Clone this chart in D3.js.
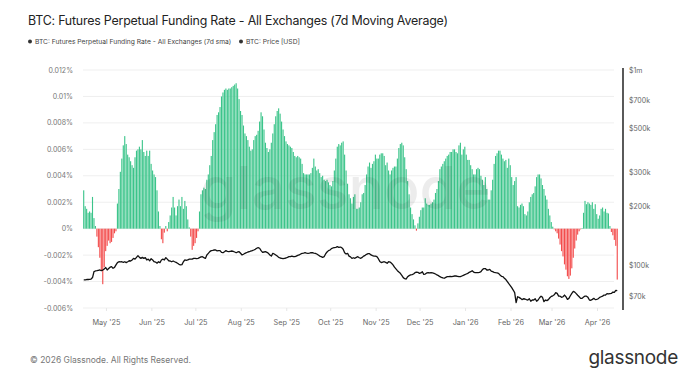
<!DOCTYPE html>
<html>
<head>
<meta charset="utf-8">
<script src="https://cdn.jsdelivr.net/npm/d3@7"></script>
<style>
  body { margin: 0; background: #fff; }
  svg { font-family: Inter, "Noto Sans", sans-serif; display: block; }
</style>
</head>
<body>
<div id="chart"></div>
<script>
// daily values from 15 Apr 2025, funding rate in units of 0.001 %
var startDay = new Date(2025, 3, 15);
var fundingRate = [
  2.9, 1.7, 1.5, 1.2, 1.3, 1.2, 2.4, 0.8, 0.2, -0.6, -1.4, -2.2, -3.2, -4.2, -2.9, -1.7, -1.3, -0.9, -1.1, -1.0, -0.7, -0.35, -0.2,
  1.9, 3.0, 4.3, 5.3, 6.3, 7.0, 6.4, 5.6, 5.4, 5.1, 4.8, 4.6, 5.4, 5.9, 6.0, 6.2, 6.0, 6.7, 5.8, 5.5,
  5.9, 5.5, 5.9, 4.9, 4.4, 4.1, 3.9, 2.9, 1.3, 0.2, -0.8, -1.1, -0.3, 0.2, -0.2, 0.5, 1.0, 1.6, 2.4, 1.6,
  1.0, 1.7, 2.2, 1.7, 2.4, 1.5, 2.1, 1.7, 0.7, 0.1, -0.6, -1.6, -1.3, -1.1, -0.7, -0.2, 1.3, 2.6, 2.9, 3.1,
  3.0, 3.7, 4.1, 4.8, 5.5, 6.7, 7.3, 7.9, 8.6, 8.8, 9.2,
  10.0, 10.3, 10.5, 10.6, 10.5, 10.6, 10.6, 10.7, 10.8, 10.9, 11.0, 10.6, 9.8, 8.9, 8.6, 7.8, 7.2, 7.0, 6.7, 6.2,
  5.9, 6.0, 6.7, 7.0, 7.1, 7.4, 8.1, 8.8, 8.5, 7.5, 6.5, 6.1, 5.8, 6.0, 6.5, 7.2, 7.9, 8.5, 8.9, 9.1,
  8.7, 8.1, 7.5, 7.0, 6.6, 6.4, 6.3, 6.2, 6.1, 5.8, 5.5, 5.4, 5.5, 5.4, 5.3, 4.9, 4.2, 4.1, 4.1, 4.1,
  4.1, 4.2, 4.6, 5.3, 4.7, 4.4, 4.5, 4.2, 3.9, 4.0, 3.7, 3.6, 3.7, 3.5, 3.3, 3.2, 3.6, 4.4, 5.3, 6.2,
  6.4, 6.3, 6.5, 6.6, 5.6, 4.4, 3.4, 2.6, 2.3, 1.9, 2.4, 2.6,
  1.5, 1.5, 1.6, 2.0, 2.6, 2.7, 3.3, 4.1, 4.7, 5.0, 4.6, 4.9, 5.1, 5.6, 5.3, 5.3, 5.6, 5.7, 5.7, 5.5,
  4.8, 5.0, 4.4, 4.1, 4.4, 4.6, 4.7, 4.7, 5.3, 6.1, 6.4, 6.5, 6.3, 5.4, 4.5, 3.6, 2.6, 1.6, 1.1, 0.7,
  0.25, -0.15, 0.4, 0.9, 1.4, 1.6, 1.6, 2.3, 1.9, 1.8, 1.8, 1.9, 2.0, 2.2, 2.7, 3.0, 3.6, 4.5, 4.7, 4.9,
  5.1, 5.3, 5.5, 5.6, 5.8, 5.8, 6.0, 6.0, 5.8, 5.7, 6.3, 6.5, 5.6, 6.0, 6.2, 5.6, 5.2, 5.2, 4.8, 4.5,
  4.1, 4.1, 4.5, 4.6, 4.5, 4.0, 3.7, 3.3, 3.9,
  3.0, 2.2, 2.2, 2.9, 3.7, 4.9, 5.5, 5.7, 5.9, 5.9, 5.6, 5.3, 5.1, 5.2, 4.6, 5.3, 4.8, 3.9, 3.3, 3.6,
  3.9, 1.7, 1.6, 1.8, 1.9, 1.7, 1.1, 1.0, 1.3, 2.0, 2.4, 2.6, 2.7, 3.2, 3.9, 4.1, 4.1, 3.8, 3.3, 3.0,
  2.5, 2.2, 1.5, 1.0, 0.5, 0.15, -0.05, -0.2, -0.35, -0.75, -1.2, -1.7, -2.1, -2.7, -3.1, -3.6, -3.8, -3.55, -3.0, -2.2,
  -1.5, -0.9, -0.45, -0.2, -0.05, 0.05, 1.2, 2.1, 1.85, 2.0, 1.9, 1.8, 2.0, 1.5, 1.85, 1.1, 0.75, 1.0, 1.5, 1.6,
  1.3, 1.5, 1.2, 1.15, 0.2, -0.25, -0.5, -0.85, -1.3, -3.85
];
// BTC price, thousands of USD
var btcPrice = [
  84.6, 84.6, 85.0, 85.0, 85.1, 85.5, 87.0, 93.2, 94.0, 94.3, 94.7, 95.1, 94.3, 95.0, 96.3, 97.9, 95.1, 96.7, 98.3, 99.0, 97.0, 98.0, 101.0,
  103.7, 104.8, 104.5, 104.8, 104.0, 104.8, 103.7, 104.8, 106.0, 105.7, 107.0, 109.0, 108.0, 110.3, 112.5, 110.3, 109.0, 110.3, 109.0, 110.0,
  107.0, 108.0, 106.0, 108.6, 107.0, 104.8, 104.4, 103.0, 104.8, 103.7, 106.9, 108.0, 107.0, 110.0, 108.0, 106.0, 105.7, 104.8, 105.7, 104.8,
  104.0, 103.0, 101.7, 101.0, 101.3, 104.8, 107.0, 106.5, 107.0, 108.0, 108.0, 108.0, 109.0, 109.0, 108.6, 109.0, 110.0, 111.0, 111.2, 110.0,
  109.0, 113.5, 115.7, 118.0, 119.4, 119.8, 120.3, 120.3, 119.0, 119.4, 119.4,
  117.0, 116.5, 117.9, 119.4, 118.4, 117.9, 118.4, 118.9, 118.4, 117.5, 116.5, 117.5, 117.9, 115.7, 113.5, 114.4, 115.7, 116.5, 117.5, 117.9,
  118.9, 119.4, 120.3, 121.3, 122.8, 123.7, 122.8, 119.4, 117.0, 117.5, 117.9, 117.0, 115.7, 113.5, 112.0, 115.7, 114.8, 113.5, 112.0, 110.3,
  109.5, 109.1, 108.6, 109.1, 109.5, 110.3, 111.2, 111.2, 112.0, 111.2, 111.2, 112.0, 113.0, 113.5, 114.8, 115.7, 116.0, 116.5, 116.0, 115.7,
  116.0, 116.5, 116.5, 116.0, 115.7, 114.8, 113.5, 112.0, 111.2, 110.3, 111.2, 114.8, 117.5, 119.4, 120.3, 122.3, 123.2, 123.7, 124.2, 125.1,
  124.2, 124.6, 123.7, 121.3, 116.5, 114.8, 115.7, 112.0, 111.0, 109.0, 109.8, 109.1,
  110.3, 111.2, 109.8, 109.1, 110.3, 112.0, 113.0, 114.4, 115.2, 115.2, 113.5, 112.5, 112.0, 112.0, 111.2, 108.6, 105.2, 103.7, 104.4, 104.8,
  104.0, 102.9, 104.8, 104.4, 102.9, 101.0, 98.3, 96.3, 94.3, 92.8, 91.4, 89.3, 86.9, 85.8, 85.5, 87.9, 89.0, 89.7, 90.0, 90.7,
  92.1, 92.8, 92.5, 91.4, 91.8, 93.2, 90.3, 90.7, 91.8, 92.1, 91.8, 92.1, 91.8, 91.4, 90.7, 89.7, 89.0, 87.9, 87.2, 86.6,
  86.3, 87.2, 87.9, 87.9, 88.3, 87.9, 88.3, 88.6, 88.6, 88.3, 87.9, 87.9, 88.6, 89.3, 90.0, 90.7, 91.4, 92.5, 93.2, 94.3,
  92.8, 92.1, 92.1, 92.1, 92.5, 93.2, 95.5, 96.7, 96.7, 95.1, 95.1, 95.8,
  93.9, 93.2, 92.5, 92.1, 91.8, 91.4, 89.7, 88.3, 87.9, 86.3, 85.0, 82.9, 80.9, 79.1, 77.2, 75.1, 72.8, 64.8, 69.4, 68.9,
  68.1, 67.1, 67.8, 67.6, 67.1, 66.8, 67.8, 65.8, 66.8, 66.8, 67.8, 65.8, 66.8, 68.6, 69.9, 68.9, 65.5, 66.8, 66.3, 67.1,
  68.6, 69.7, 70.2, 71.0, 72.8, 72.2, 69.9, 69.9, 68.9, 69.4, 70.8, 69.4, 67.3, 68.1, 70.2, 72.2, 73.9, 73.3, 72.0, 70.6,
  69.4, 68.1, 68.1, 69.2, 69.9, 69.9, 68.9, 66.8, 66.6, 67.3, 68.1, 67.1, 67.3, 67.8, 68.9, 69.4, 69.9, 70.8, 70.8, 72.0,
  71.7, 72.0, 72.2, 73.3, 73.0, 74.8, 74.5
];
var rateTicks = [-6, -4, -2, 0, 2, 4, 6, 8, 10, 12];
var priceTicks = [70000, 100000, 200000, 300000, 500000, 700000, 1000000];
var priceLabels = ["$70k", "$100k", "$200k", "$300k", "$500k", "$700k", "$1m"];
var monthTicks = ["May '25", "Jun '25", "Jul '25", "Aug '25", "Sep '25", "Oct '25", "Nov '25", "Dec '25", "Jan '26", "Feb '26", "Mar '26", "Apr '26"];

var W = 690, H = 374;
var m = {t: 70, r: 72, b: 66, l: 83};
var days = fundingRate.map(function(v, i){ return d3.timeDay.offset(startDay, i); });

var svg = d3.select("#chart").append("svg").attr("width", W).attr("height", H);

var x = d3.scaleTime().domain([startDay, d3.timeDay.offset(startDay, fundingRate.length)])
    .range([m.l, W - m.r]);
var y = d3.scaleLinear().domain([-6, 12]).range([H - m.b, m.t]);
var yP = d3.scaleLog().domain([60800, 1000000]).range([H - m.b, m.t]);

// title + legend
svg.append("text").attr("x", 28).attr("y", 25).attr("font-size", 12.4).attr("letter-spacing", -0.2)
    .attr("fill", "#222")
    .text("BTC: Futures Perpetual Funding Rate - All Exchanges (7d Moving Average)");
var leg = [{t: "BTC: Futures Perpetual Funding Rate - All Exchanges (7d sma)", x: 30},
           {t: "BTC: Price [USD]", x: 241}];
leg.forEach(function(l){
    svg.append("circle").attr("cx", l.x).attr("cy", 41.5).attr("r", 2).attr("fill", "#333");
    svg.append("text").attr("x", l.x + 5).attr("y", 44).attr("font-size", 6.7).attr("fill", "#444").text(l.t);
});

// grid + left axis labels
svg.append("g").selectAll("line").data(rateTicks).enter().append("line")
    .attr("x1", m.l).attr("x2", W - m.r - 4)
    .attr("y1", function(d){ return y(d); }).attr("y2", function(d){ return y(d); })
    .attr("stroke", "#efefef").attr("stroke-width", 1);
svg.append("g").selectAll("text").data(rateTicks).enter().append("text")
    .attr("x", 73).attr("y", function(d){ return y(d) + 2.5; })
    .attr("text-anchor", "end").attr("font-size", 7).attr("fill", "#777")
    .text(function(d){ return (d / 1000) + "%"; });

// bars
var step = x(d3.timeDay.offset(startDay, 1)) - x(startDay);
svg.append("g").selectAll("rect").data(fundingRate).enter().append("rect")
    .attr("x", function(d, i){ return x(days[i]) + 0.15; })
    .attr("width", step - 0.35)
    .attr("y", function(d){ return Math.min(y(d), y(0)); })
    .attr("height", function(d){ return Math.abs(y(d) - y(0)); })
    .attr("fill", function(d){ return d >= 0 ? "#3bc48a" : "#f34c4c"; });

// watermark over the bars
svg.append("text").attr("x", 200).attr("y", 209).attr("opacity", 0.07)
    .attr("font-size", 59).attr("font-weight", 500).attr("fill", "#000").text("glassnode");

// price line
var line = d3.line()
    .x(function(d, i){ return x(days[i]) + step / 2; })
    .y(function(d){ return yP(d * 1000); });
svg.append("path").datum(btcPrice).attr("d", line)
    .attr("fill", "none").attr("stroke", "#111").attr("stroke-width", 1.3).attr("stroke-linejoin", "round");

// right axis
svg.append("line").attr("x1", 623).attr("x2", 623).attr("y1", m.t - 2).attr("y2", H - m.b + 2)
    .attr("stroke", "#000").attr("stroke-width", 1.3);
svg.append("g").selectAll("text").data(priceTicks).enter().append("text")
    .attr("x", 629).attr("y", function(d){ return yP(d) + 2.5; })
    .attr("font-size", 7).attr("fill", "#666")
    .text(function(d, i){ return priceLabels[i]; });

// x axis
var months = monthTicks.map(function(s, i){ return new Date(2025, 4 + i, 1); });
svg.append("g").selectAll("line").data(months).enter().append("line")
    .attr("x1", function(d){ return x(d); }).attr("x2", function(d){ return x(d); })
    .attr("y1", H - m.b).attr("y2", H - m.b + 3).attr("stroke", "#e6e6e6");
svg.append("g").selectAll("text").data(months).enter().append("text")
    .attr("x", function(d){ return x(d); }).attr("y", 324.5)
    .attr("text-anchor", "middle").attr("font-size", 7.3).attr("fill", "#666")
    .text(function(d, i){ return monthTicks[i]; });

// footer
svg.append("text").attr("x", 30).attr("y", 363).attr("font-size", 8.5).attr("fill", "#777")
    .text("\u00a9 2026 Glassnode. All Rights Reserved.");
svg.append("text").attr("x", 678).attr("y", 364).attr("text-anchor", "end")
    .attr("font-size", 19).attr("fill", "#333").attr("letter-spacing", -0.3).text("glassnode");
</script>
</body>
</html>
